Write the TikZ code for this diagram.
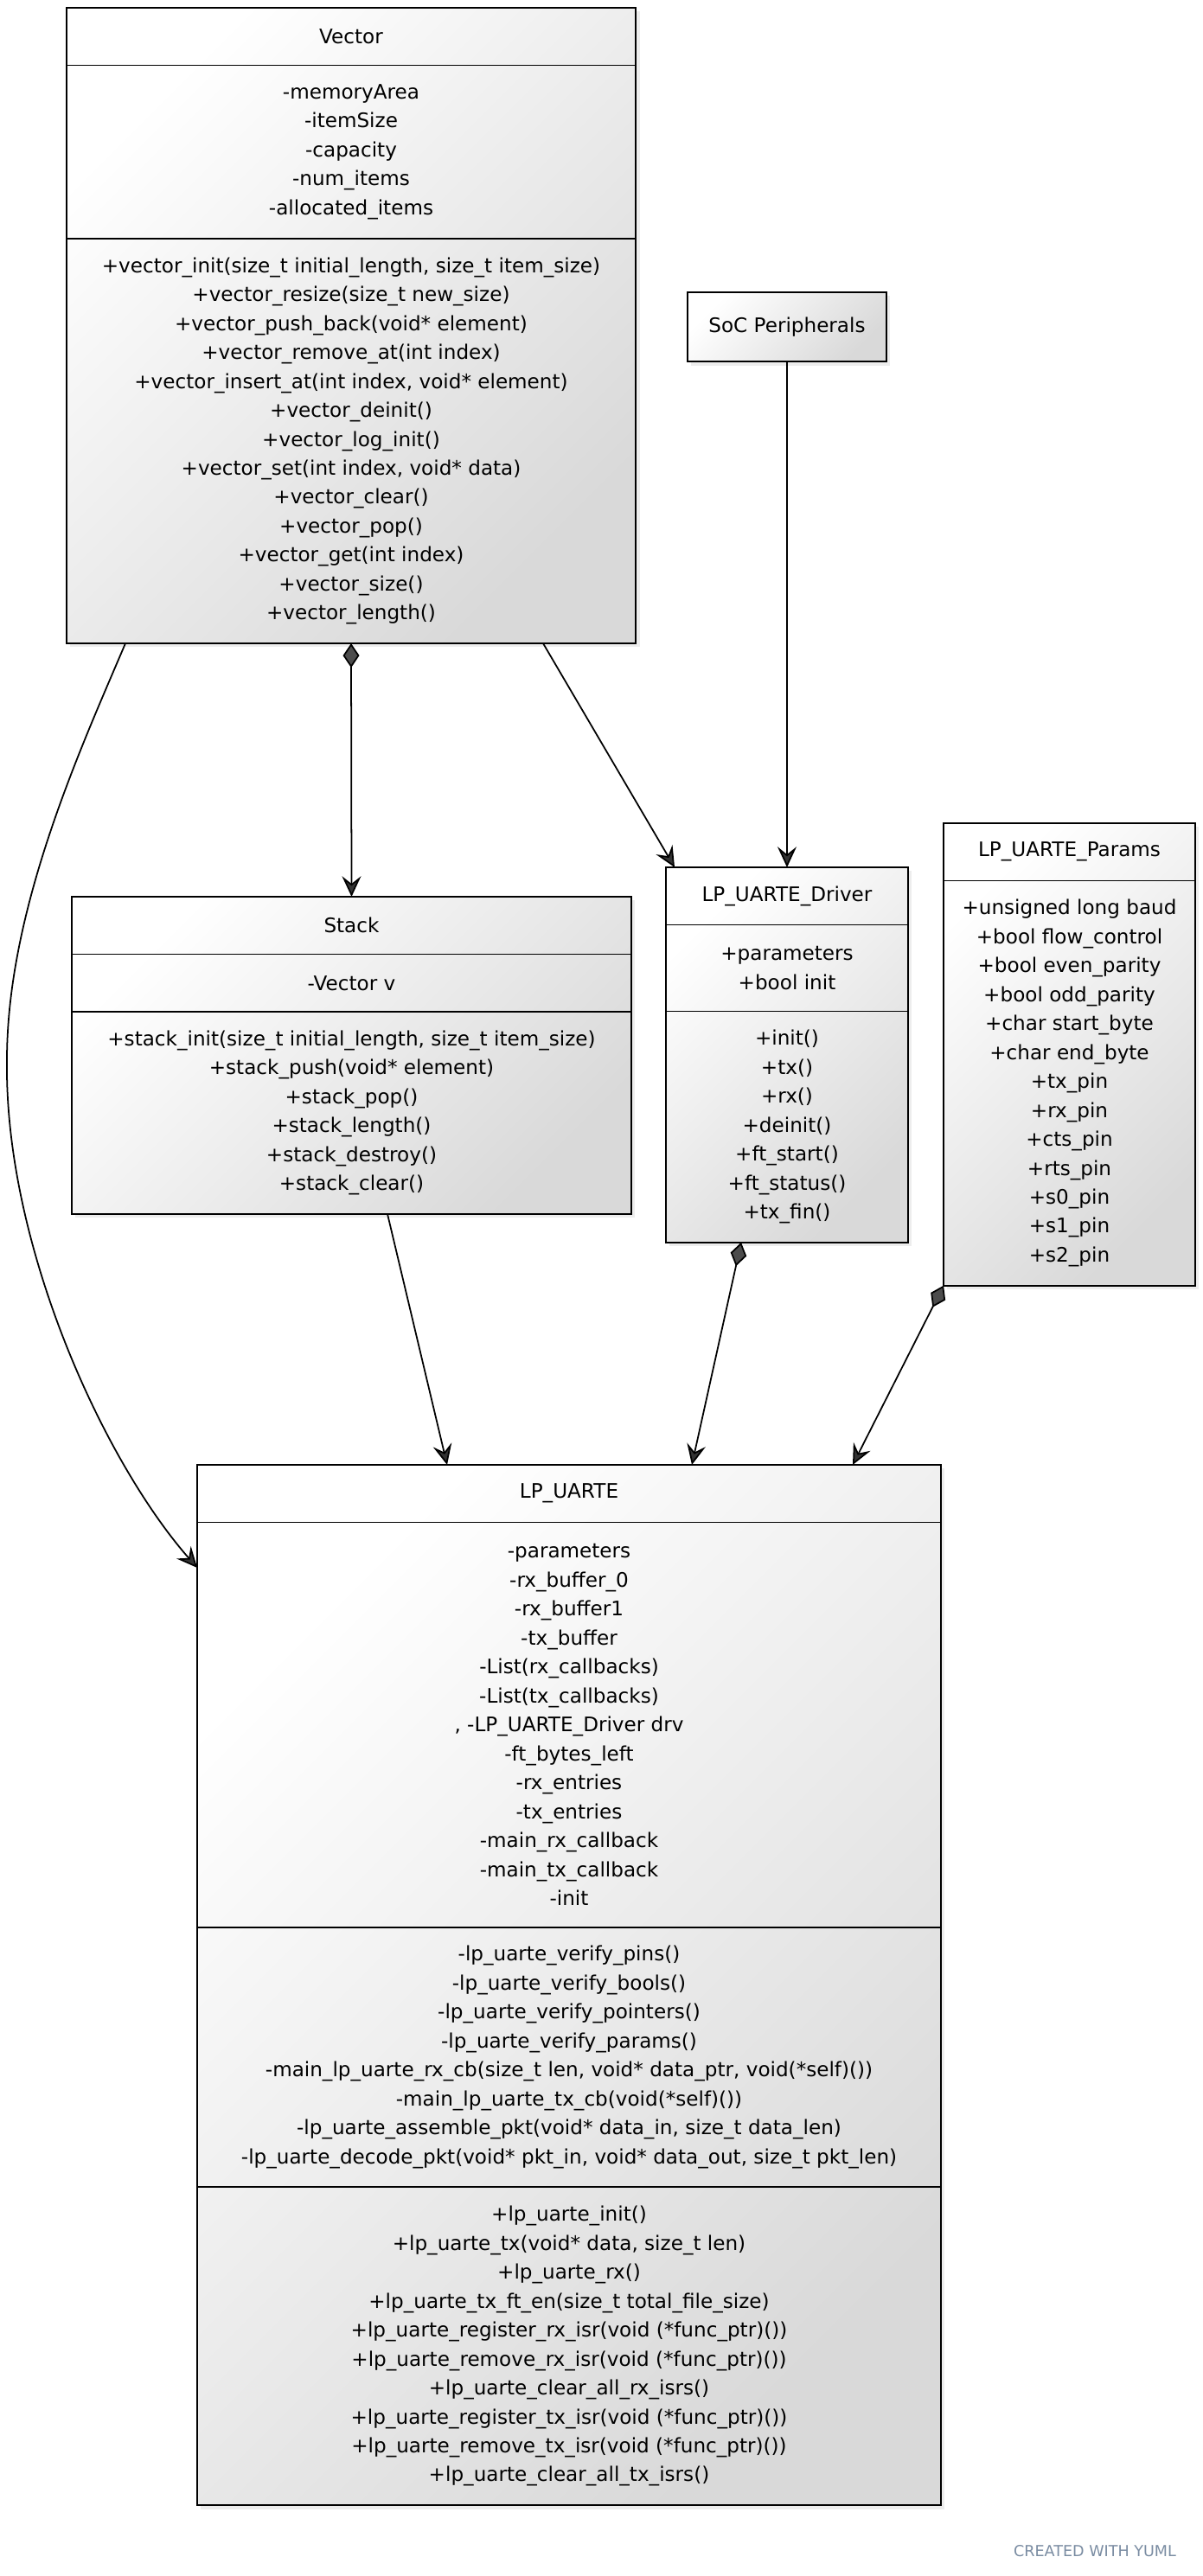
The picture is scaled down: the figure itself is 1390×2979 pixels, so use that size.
\documentclass[tikz,border=0pt]{standalone}
\usepackage{fontspec}
\newfontfamily\umlfont{DejaVu Sans}
\usetikzlibrary{positioning,arrows.meta,calc,shadows,backgrounds}
\definecolor{yumlgray}{HTML}{7A8CA2}

\begin{document}
\begin{tikzpicture}[x=0.02cm, y=-0.02cm,
    cls/.style={draw, line width=1.1pt, outer sep=0pt, align=center, inner ysep=0pt,
      minimum width=#1, minimum height=37.85pt, font=\umlfont\fontsize{13.15}{19.05}\selectfont},
    nl/.style={minimum height={#1*19.05pt+18.8pt}},
    clsbg/.style={top color=white, bottom color=black!15, shading angle=45,
      drop shadow={opacity=0.14, shadow xshift=2.5pt, shadow yshift=-2.5pt}},
    arrow/.style={-{Stealth[length=13.5pt, width=12.5pt, inset=5pt, fill=black!80]}, line width=1pt},
    comp/.style={{Diamond[length=16pt, width=10.8pt, fill=black!70]}-{Stealth[length=13.5pt, width=12.5pt, inset=5pt, fill=black!80]}, line width=1pt}]
  \useasboundingbox (0,0) rectangle (1390,2979);

  % Vector
  \node[cls=13.18cm, anchor=north] (vec) at (406,9) {Vector};
  \node[cls=13.18cm, nl=5, below=0pt of vec] (vec-a) {-memoryArea\\-itemSize\\-capacity\\-num\_items\\-allocated\_items};
  \node[cls=13.18cm, nl=13, below=0pt of vec-a] (vec-m) {+vector\_init(size\_t initial\_length, size\_t item\_size)\\+vector\_resize(size\_t new\_size)\\+vector\_push\_back(void* element)\\+vector\_remove\_at(int index)\\+vector\_insert\_at(int index, void* element)\\+vector\_deinit()\\+vector\_log\_init()\\+vector\_set(int index, void* data)\\+vector\_clear()\\+vector\_pop()\\+vector\_get(int index)\\+vector\_size()\\+vector\_length()};

  % SoC
  \node[cls=4.6cm, minimum height=45.9pt] (soc) at (910,378) {SoC Peripherals};

  % Stack
  \node[cls=12.94cm, anchor=north] (stk) at (406.5,1037) {Stack};
  \node[cls=12.94cm, below=0pt of stk] (stk-a) {-Vector v};
  \node[cls=12.94cm, nl=6, below=0pt of stk-a] (stk-m) {+stack\_init(size\_t initial\_length, size\_t item\_size)\\+stack\_push(void* element)\\+stack\_pop()\\+stack\_length()\\+stack\_destroy()\\+stack\_clear()};

  % LP_UARTE_Driver
  \node[cls=5.6cm, anchor=north] (drv) at (910,1003) {LP\_UARTE\_Driver};
  \node[cls=5.6cm, nl=2, below=0pt of drv] (drv-a) {+parameters\\+bool init};
  \node[cls=5.6cm, nl=7, below=0pt of drv-a] (drv-m) {+init()\\+tx()\\+rx()\\+deinit()\\+ft\_start()\\+ft\_status()\\+tx\_fin()};

  % LP_UARTE_Params
  \node[cls=5.82cm, anchor=north] (par) at (1236.5,952) {LP\_UARTE\_Params};
  \node[cls=5.82cm, nl=13, below=0pt of par] (par-a) {+unsigned long baud\\+bool flow\_control\\+bool even\_parity\\+bool odd\_parity\\+char start\_byte\\+char end\_byte\\+tx\_pin\\+rx\_pin\\+cts\_pin\\+rts\_pin\\+s0\_pin\\+s1\_pin\\+s2\_pin};

  % LP_UARTE
  \node[cls=17.2cm, anchor=north] (lp) at (658,1694) {LP\_UARTE};
  \node[cls=17.2cm, nl=13, below=0pt of lp] (lp-a) {-parameters\\-rx\_buffer\_0\\-rx\_buffer1\\-tx\_buffer\\-List(rx\_callbacks)\\-List(tx\_callbacks)\\, -LP\_UARTE\_Driver drv\\-ft\_bytes\_left\\-rx\_entries\\-tx\_entries\\-main\_rx\_callback\\-main\_tx\_callback\\-init};
  \node[cls=17.2cm, nl=8, below=0pt of lp-a] (lp-p) {-lp\_uarte\_verify\_pins()\\-lp\_uarte\_verify\_bools()\\-lp\_uarte\_verify\_pointers()\\-lp\_uarte\_verify\_params()\\-main\_lp\_uarte\_rx\_cb(size\_t len, void* data\_ptr, void(*self)())\\-main\_lp\_uarte\_tx\_cb(void(*self)())\\-lp\_uarte\_assemble\_pkt(void* data\_in, size\_t data\_len)\\-lp\_uarte\_decode\_pkt(void* pkt\_in, void* data\_out, size\_t pkt\_len)};
  \node[cls=17.2cm, nl=10, below=0pt of lp-p] (lp-m) {+lp\_uarte\_init()\\+lp\_uarte\_tx(void* data, size\_t len)\\+lp\_uarte\_rx()\\+lp\_uarte\_tx\_ft\_en(size\_t total\_file\_size)\\+lp\_uarte\_register\_rx\_isr(void (*func\_ptr)())\\+lp\_uarte\_remove\_rx\_isr(void (*func\_ptr)())\\+lp\_uarte\_clear\_all\_rx\_isrs()\\+lp\_uarte\_register\_tx\_isr(void (*func\_ptr)())\\+lp\_uarte\_remove\_tx\_isr(void (*func\_ptr)())\\+lp\_uarte\_clear\_all\_tx\_isrs()};

  % class backgrounds
  \begin{scope}[on background layer]
    \shade[clsbg] (vec.north west) rectangle (vec-m.south east);
    \shade[clsbg] (soc.north west) rectangle (soc.south east);
    \shade[clsbg] (stk.north west) rectangle (stk-m.south east);
    \shade[clsbg] (drv.north west) rectangle (drv-m.south east);
    \shade[clsbg] (par.north west) rectangle (par-a.south east);
    \shade[clsbg] (lp.north west) rectangle (lp-m.south east);
  \end{scope}

  % connectors
  \draw[arrow] ($(vec-m.south)+(-261,0)$) .. controls (95,862) and (8,1050) .. (8,1226)
    .. controls (5,1440) and (120,1690) .. ($(lp.north west)+(0,119)$);
  \draw[comp] (vec-m.south) -- (stk.north);
  \draw[arrow] ($(vec-m.south)+(222,0)$) -- ($(drv.north west)+(10,0)$);
  \draw[arrow] (soc.south) -- (drv.north);
  \draw[arrow] ($(stk-m.south)+(41.5,0)$) -- ($(lp.north)+(-141,0)$);
  \draw[comp] ($(drv-m.south)+(-53,0)$) -- ($(lp.north)+(142,0)$);
  \draw[comp] (par-a.south west) -- ($(lp.north)+(328,0)$);

  \node[font=\umlfont\fontsize{10}{12}\selectfont, text=yumlgray] (credit) at (1266,2950) {CREATED WITH YUML};
\end{tikzpicture}
\end{document}
